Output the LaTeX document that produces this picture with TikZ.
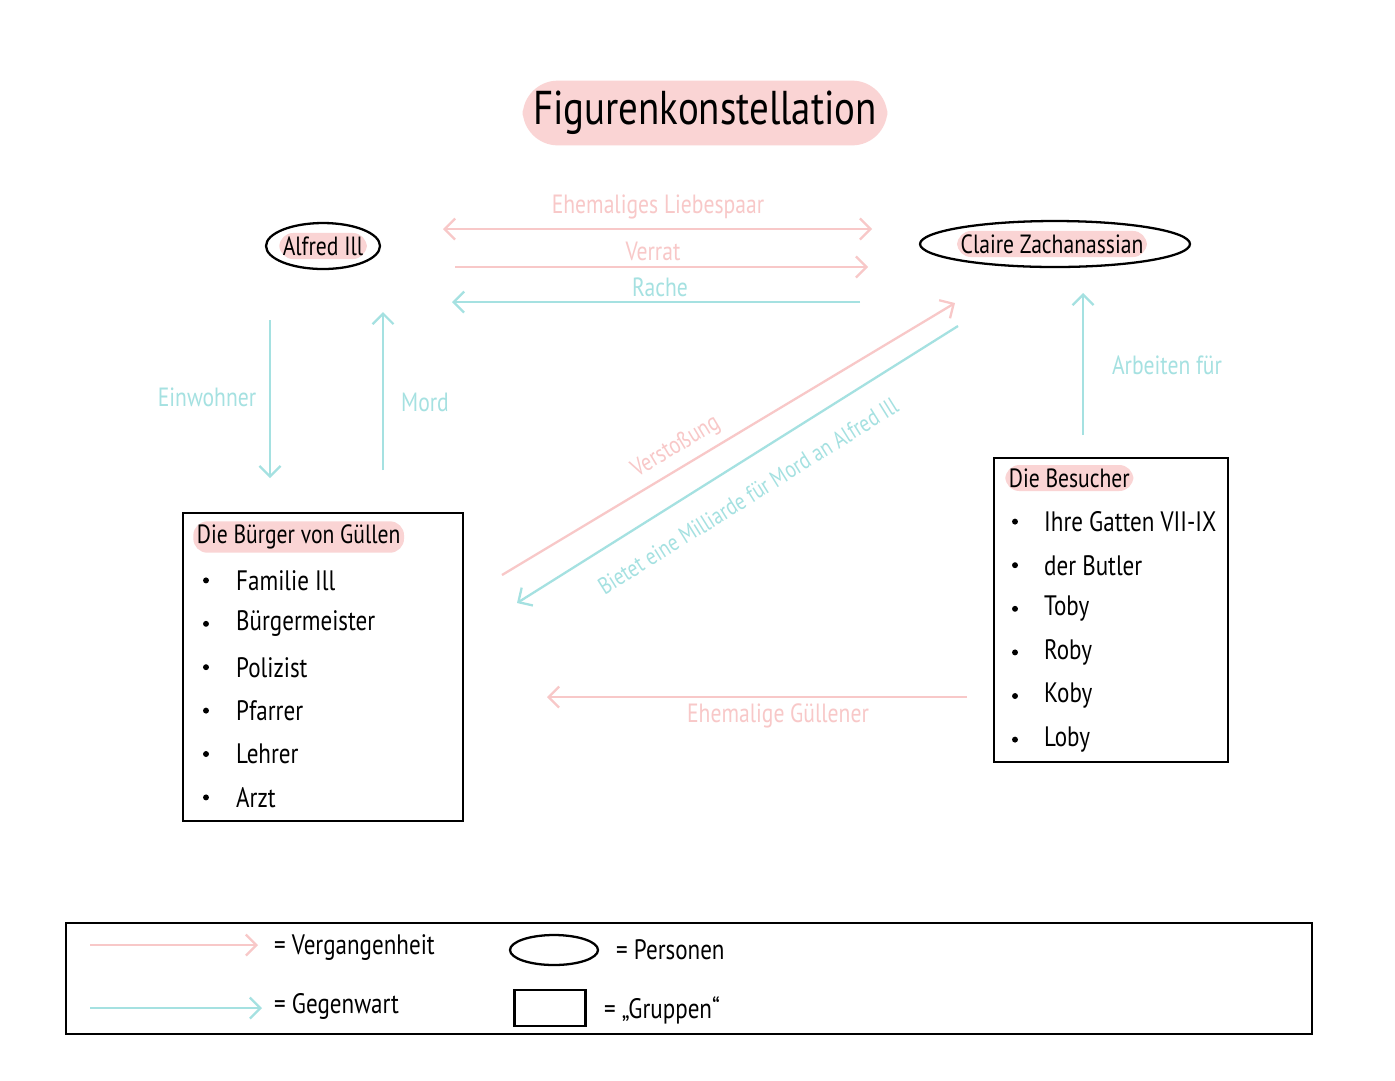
\documentclass[tikz,border=0pt]{standalone}
\usepackage{fontspec}
\setmainfont{PT Sans}[FakeStretch=0.82]
\usetikzlibrary{arrows.meta,shapes.geometric}
\definecolor{pk}{RGB}{248,200,200}
\definecolor{hl}{RGB}{250,212,212}
\definecolor{cy}{RGB}{165,225,225}
\begin{document}
\begin{tikzpicture}[x=0.02cm,y=-0.02cm,
  arr/.style={line width=1.3pt,-{Straight Barb[length=6pt,width=12pt]}},
  pa/.style={arr,pk}, ca/.style={arr,cy},
  plab/.style={text=pk,font=\fontsize{15}{17}\selectfont},
  clab/.style={text=cy,font=\fontsize{15}{17}\selectfont},
  pers/.style={ellipse,draw,line width=1.3pt,inner sep=0pt},
  item/.style={anchor=west,font=\fontsize{16}{18}\selectfont},
  bul/.style={circle,fill,inner sep=1.2pt},
  hlt/.style={fill=hl,rounded corners=8pt,inner sep=2pt},
  box/.style={draw,line width=1.3pt}]
\useasboundingbox (0,0) rectangle (1395,1080);
\fill[white] (0,0) rectangle (1395,1080);
% title
\node[hlt,rounded corners=20pt,inner sep=6pt,font=\fontsize{27}{30}\selectfont] (title) at (705,113) {Figurenkonstellation};
% persons
\node[pers,minimum width=2.28cm,minimum height=0.92cm] (alfredE) at (323,246) {};
\node[hlt,font=\fontsize{15}{17}\selectfont] (alfredT) at (323,246) {Alfred Ill};
\node[pers,minimum width=5.4cm,minimum height=0.92cm] (claire) at (1055,244) {};
\node[hlt,font=\fontsize{15}{17}\selectfont] (claireT) at (1052,244) {Claire Zachanassian};
% top arrows
\coordinate (a1) at (443,229); \coordinate (a2) at (872,229);
\draw[pa,{Straight Barb[length=6pt,width=12pt]}-{Straight Barb[length=6pt,width=12pt]}] (a1) -- (a2);
\node[plab] (l1) at (658,207) {Ehemaliges Liebespaar};
\coordinate (b1) at (455,267); \coordinate (b2) at (868,267);
\draw[pa] (b1) -- (b2);
\node[plab] (l2) at (653,251) {Verrat};
\coordinate (c1) at (860,302); \coordinate (c2) at (452,302);
\draw[ca] (c1) -- (c2);
\node[clab] (l3) at (660,287) {Rache};
% vertical
\coordinate (d1) at (270,320); \coordinate (d2) at (270,478);
\draw[ca] (d1) -- (d2);
\node[clab] (l4) at (207,397) {Einwohner};
\coordinate (e1) at (383,470); \coordinate (e2) at (383,312);
\draw[ca] (e1) -- (e2);
\node[clab] (l5) at (425,402) {Mord};
\coordinate (f1) at (1083,435); \coordinate (f2) at (1083,293);
\draw[ca] (f1) -- (f2);
\node[clab] (l6) at (1167,365) {Arbeiten für};
% diagonals
\coordinate (g1) at (502,575); \coordinate (g2) at (955,303);
\draw[pa] (g1) -- (g2);
\node[plab,rotate=31,font=\fontsize{14}{16}\selectfont] (l7) at (676,447) {Verstoßung};
\coordinate (h1) at (958,326); \coordinate (h2) at (517,603);
\draw[ca] (h1) -- (h2);
\node[clab,rotate=32,font=\fontsize{13.5}{16}\selectfont] (l8) at (748,496) {Bietet eine Milliarde für Mord an Alfred Ill};
% bottom pink
\coordinate (i1) at (967,697); \coordinate (i2) at (547,697);
\draw[pa] (i1) -- (i2);
\node[plab] (l9) at (778,716) {Ehemalige Güllener};
% boxes
\node[box,minimum width=5.6cm,minimum height=6.16cm] (buerger) at (323,667) {};
\node[hlt,anchor=west,font=\fontsize{15}{17}\selectfont] (bh) at (193,537) {Die Bürger von Güllen};
\foreach \t [count=\i] in {Familie Ill,Bürgermeister,Polizist,Pfarrer,Lehrer,Arzt}{
  \node[bul] (bb\i) at (206,537+\i*43.4) {};
  \node[item] (bt\i) at (230,537+\i*43.4) {\t};}
\node[box,minimum width=4.68cm,minimum height=6.08cm] (besucher) at (1111,610) {};
\node[hlt,anchor=west,font=\fontsize{15}{17}\selectfont] (eh) at (1005,478) {Die Besucher};
\foreach \t [count=\i] in {Ihre Gatten VII-IX,der Butler,Toby,Roby,Koby,Loby}{
  \node[bul] (eb\i) at (1015,478+\i*43.6) {};
  \node[item] (et\i) at (1038,478+\i*43.6) {\t};}
% legend
\node[box,minimum width=24.92cm,minimum height=2.22cm] (legend) at (689,978.5) {};
\coordinate (j1) at (90,945); \coordinate (j2) at (258,945);
\draw[pa] (j1) -- (j2);
\node[item] (lg1) at (268,948) {= Vergangenheit};
\coordinate (k1) at (90,1008); \coordinate (k2) at (262,1008);
\draw[ca] (k1) -- (k2);
\node[item] (lg2) at (268,1006) {= Gegenwart};
\node[pers,minimum width=1.76cm,minimum height=0.6cm] (lge) at (554,950) {};
\node[item] (lg3) at (610,950) {= Personen};
\node[box,minimum width=1.42cm,minimum height=0.72cm] (lgr) at (550,1008) {};
\node[item] (lg4) at (598,1010) {= „Gruppen“};
\end{tikzpicture}
\end{document}
